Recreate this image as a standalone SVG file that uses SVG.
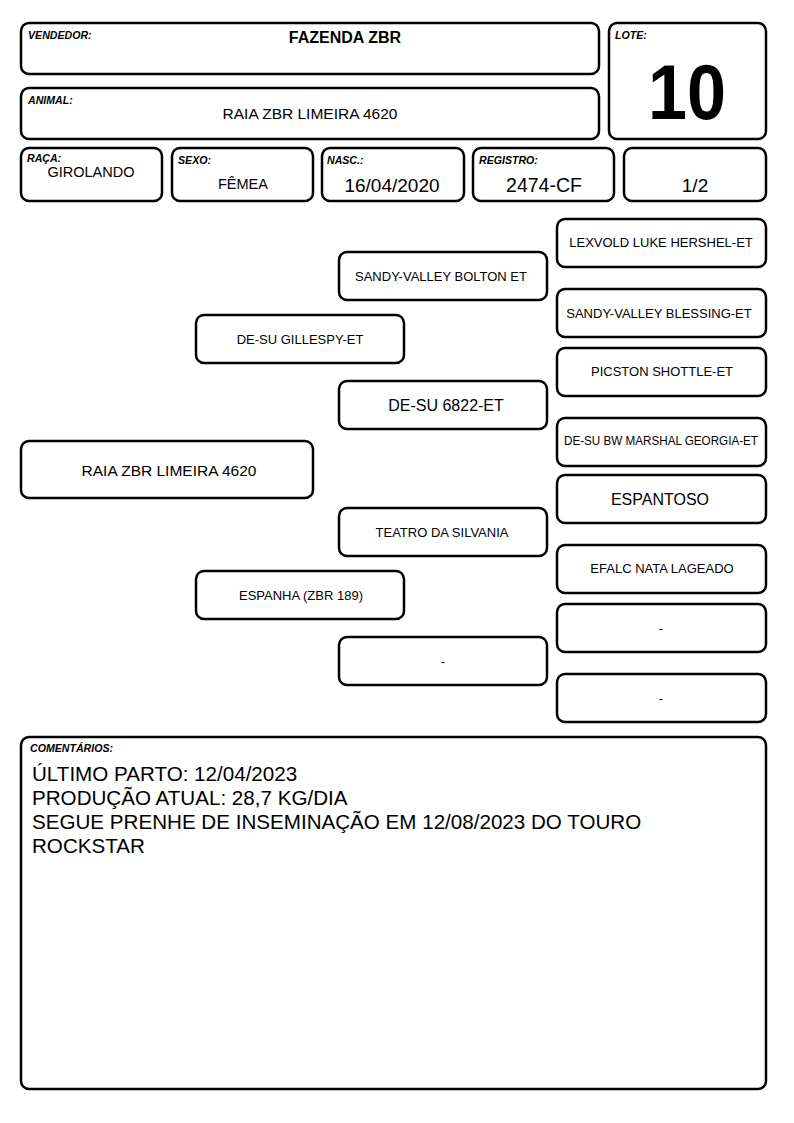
<svg xmlns="http://www.w3.org/2000/svg" width="794" height="1123" viewBox="0 0 794 1123">
<style>
rect{fill:#fff;stroke:#000;stroke-width:2.5}
text{font-family:"Liberation Sans",Arial,sans-serif;fill:#000}
.lbl{font-size:10.6px;font-weight:bold;font-style:italic}
.c{text-anchor:middle}
.p{font-size:13px;text-anchor:middle}
.pb{font-size:16px;text-anchor:middle}
.cm{font-size:20.6px}
</style>
<rect width="794" height="1123" style="fill:#fff;stroke:none"/>
<g id="vendedor"><rect x="21" y="23" width="578" height="51" rx="8"/><text class="lbl" x="28" y="39">VENDEDOR:</text><text class="c" x="345" y="43" style="font-size:16px;font-weight:bold">FAZENDA ZBR</text></g>
<g id="animal"><rect x="21" y="88" width="578" height="51" rx="8"/><text class="lbl" x="28" y="104">ANIMAL:</text><text class="c" x="310" y="119" style="font-size:15.5px">RAIA ZBR LIMEIRA 4620</text></g>
<g id="lote"><rect x="609" y="23" width="157" height="116" rx="8"/><text class="lbl" x="615" y="39">LOTE:</text><text class="c" x="687" y="119" style="font-size:78px;font-weight:bold" textLength="78" lengthAdjust="spacingAndGlyphs">10</text></g>
<g id="raca"><rect x="21" y="148" width="141" height="53" rx="8"/><text class="lbl" x="27" y="162">RAÇA:</text><text class="c" x="91" y="177" style="font-size:14.5px">GIROLANDO</text></g>
<g id="sexo"><rect x="172" y="148" width="141" height="53" rx="8"/><text class="lbl" x="178" y="164">SEXO:</text><text class="c" x="243" y="189" style="font-size:14.5px">FÊMEA</text></g>
<g id="nasc"><rect x="322" y="148" width="142" height="53" rx="8"/><text class="lbl" x="327" y="164">NASC.:</text><text class="c" x="392" y="192" style="font-size:19px">16/04/2020</text></g>
<g id="registro"><rect x="473" y="148" width="141" height="53" rx="8"/><text class="lbl" x="479" y="164">REGISTRO:</text><text class="c" x="544" y="192" style="font-size:19.5px">2474-CF</text></g>
<g id="parte"><rect x="624" y="148" width="142" height="53" rx="8"/><text class="c" x="695" y="192" style="font-size:19px">1/2</text></g>
<g id="connectors"></g>
<g id="n-raia"><rect x="21" y="441" width="292" height="57" rx="8"/><text class="c" x="169" y="476" style="font-size:15.5px">RAIA ZBR LIMEIRA 4620</text></g>
<g id="n-gillespy"><rect x="196" y="315" width="208" height="48" rx="8"/><text class="p" x="300" y="344">DE-SU GILLESPY-ET</text></g>
<g id="n-espanha"><rect x="196" y="571" width="208" height="48" rx="8"/><text class="p" x="301" y="600">ESPANHA (ZBR 189)</text></g>
<g id="n-bolton"><rect x="339" y="252" width="208" height="48" rx="8"/><text class="p" x="441" y="281">SANDY-VALLEY BOLTON ET</text></g>
<g id="n-6822"><rect x="339" y="381" width="208" height="48" rx="8"/><text class="pb" x="446" y="411">DE-SU 6822-ET</text></g>
<g id="n-teatro"><rect x="339" y="508" width="208" height="48" rx="8"/><text class="p" x="442" y="537">TEATRO DA SILVANIA</text></g>
<g id="n-dash1"><rect x="339" y="637" width="208" height="48" rx="8"/><text class="p" x="443" y="666">-</text></g>
<g id="n-lexvold"><rect x="557" y="219" width="209" height="48" rx="8"/><text class="p" x="661" y="247">LEXVOLD LUKE HERSHEL-ET</text></g>
<g id="n-blessing"><rect x="557" y="289" width="209" height="48" rx="8"/><text class="p" x="659" y="318">SANDY-VALLEY BLESSING-ET</text></g>
<g id="n-picston"><rect x="557" y="348" width="209" height="48" rx="8"/><text class="p" x="662" y="376">PICSTON SHOTTLE-ET</text></g>
<g id="n-marshal"><rect x="557" y="418" width="209" height="48" rx="8"/><text class="p" x="661" y="445" style="font-size:12px" textLength="194" lengthAdjust="spacingAndGlyphs">DE-SU BW MARSHAL GEORGIA-ET</text></g>
<g id="n-espantoso"><rect x="557" y="475" width="209" height="48" rx="8"/><text class="pb" x="660" y="505">ESPANTOSO</text></g>
<g id="n-efalc"><rect x="557" y="545" width="209" height="48" rx="8"/><text class="p" x="662" y="573">EFALC NATA LAGEADO</text></g>
<g id="n-dash2"><rect x="557" y="604" width="209" height="48" rx="8"/><text class="p" x="661" y="633">-</text></g>
<g id="n-dash3"><rect x="557" y="674" width="209" height="48" rx="8"/><text class="p" x="661" y="703">-</text></g>
<g id="comentarios"><rect x="21" y="737" width="745" height="352" rx="8"/><text class="lbl" x="30" y="752">COMENTÁRIOS:</text>
<text class="cm" x="32" y="781">ÚLTIMO PARTO: 12/04/2023</text>
<text class="cm" x="32" y="805">PRODUÇÃO ATUAL: 28,7 KG/DIA</text>
<text class="cm" x="32" y="829">SEGUE PRENHE DE INSEMINAÇÃO EM 12/08/2023 DO TOURO</text>
<text class="cm" x="32" y="853">ROCKSTAR</text></g>
</svg>
